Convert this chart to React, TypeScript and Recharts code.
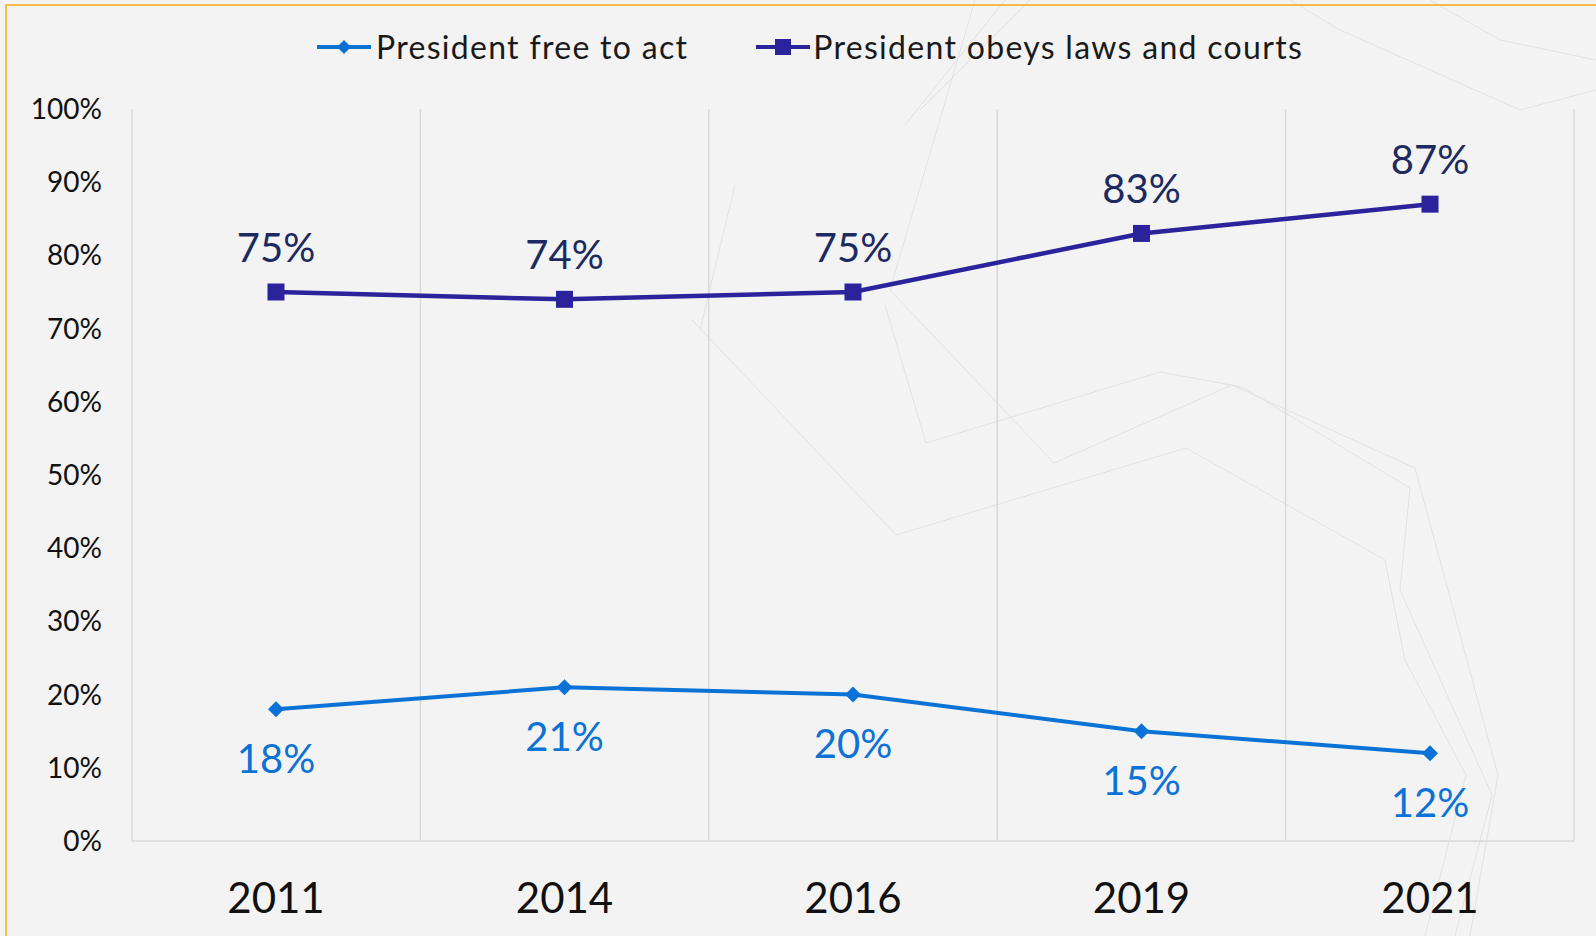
import React from 'react';
import {
  LineChart,
  Line,
  XAxis,
  YAxis,
  CartesianGrid,
  Legend,
  LabelList,
} from 'recharts';

const years = ['2011', '2014', '2016', '2019', '2021'];
const freeToAct = [18, 21, 20, 15, 12];
const obeysLaws = [75, 74, 75, 83, 87];
const yTicks = [0, 10, 20, 30, 40, 50, 60, 70, 80, 90, 100];

const BLUE = '#0b72d6';
const NAVY = '#2a239b';
const NAVY_TEXT = '#1c2a60';
const FONT = 'Lato, "Open Sans", sans-serif';

const data = years.map((year, i) => ({
  year,
  free: freeToAct[i],
  obeys: obeysLaws[i],
}));

// faint decorative strokes in the slide background
const decoLines = [
  '692,320 896,535 1186,448 1385,560 1405,660 1466,775 1425,936',
  '885,305 926,443 1160,372 1242,387 1410,488 1400,590 1492,795 1455,936',
  '975,0 890,290 1054,463 1232,385 1415,468 1498,775 1470,936',
  '735,185 712,280 700,330',
  '920,110 1030,0',
  '905,125 1005,0',
  '1290,0 1340,30 1520,110 1596,90',
  '1430,0 1500,40 1596,60',
];

const Diamond = ({ cx, cy, fill, r = 8 }: any) =>
  cx == null || cy == null ? null : (
    <path
      d={`M${cx},${cy - r} L${cx + r},${cy} L${cx},${cy + r} L${cx - r},${cy} Z`}
      fill={fill}
    />
  );

const Square = ({ cx, cy, fill, s = 17 }: any) =>
  cx == null || cy == null ? null : (
    <rect x={cx - s / 2} y={cy - s / 2} width={s} height={s} fill={fill} />
  );

const LegendIcon = ({ kind, color }: { kind: 'diamond' | 'square'; color: string }) => (
  <svg width={54} height={20} style={{ display: 'block' }}>
    <line x1={0} y1={10} x2={54} y2={10} stroke={color} strokeWidth={4} />
    {kind === 'diamond' ? (
      <Diamond cx={27} cy={10} r={7} fill={color} />
    ) : (
      <Square cx={27} cy={10} s={16} fill={color} />
    )}
  </svg>
);

const renderLegend = () => (
  <div
    style={{
      display: 'flex',
      justifyContent: 'center',
      alignItems: 'center',
      paddingLeft: 24,
      fontFamily: FONT,
      fontSize: 32,
      letterSpacing: 1.3,
      color: '#1a1a1a',
    }}
  >
    <div style={{ display: 'flex', alignItems: 'center', marginRight: 68 }}>
      <LegendIcon kind="diamond" color={BLUE} />
      <span style={{ marginLeft: 5 }}>President free to act</span>
    </div>
    <div style={{ display: 'flex', alignItems: 'center' }}>
      <LegendIcon kind="square" color={NAVY} />
      <span style={{ marginLeft: 3 }}>President obeys laws and courts</span>
    </div>
  </div>
);

const App = () => {
  return (
    <div
      style={{
        position: 'absolute',
        left: 0,
        top: 0,
        width: 1596,
        height: 936,
        background: '#f3f3f3',
        overflow: 'hidden',
      }}
    >
      <svg
        width={1596}
        height={936}
        style={{ position: 'absolute', left: 0, top: 0 }}
      >
        {decoLines.map((pts, i) => (
          <polyline key={i} points={pts} fill="none" stroke="#e1e1e1" strokeWidth={1} />
        ))}
      </svg>
      <div
        style={{
          position: 'absolute',
          left: 5,
          top: 4,
          width: 1700,
          height: 1000,
          borderTop: '2px solid #f8bd48',
          borderLeft: '2px solid #f8bd48',
        }}
      />
      <div style={{ position: 'absolute', left: 0, top: 0 }}>
        <LineChart
          width={1596}
          height={936}
          data={data}
          margin={{ top: 70, right: 22, left: 0, bottom: 35 }}
        >
          <CartesianGrid
            horizontal={false}
            stroke="#d9d9d9"
            strokeWidth={1.5}
            verticalCoordinatesGenerator={({ offset }: any) =>
              [0, 1, 2, 3, 4, 5].map((i) => offset.left + (i * offset.width) / years.length)
            }
          />
          <XAxis
            dataKey="year"
            padding={{ left: 144, right: 144 }}
            tickLine={false}
            tickSize={0}
            tickMargin={42}
            height={60}
            axisLine={{ stroke: '#d9d9d9', strokeWidth: 1.5 }}
            tick={{ fontSize: 42, fill: '#111', fontFamily: FONT }}
          />
          <YAxis
            domain={[0, 100]}
            ticks={yTicks}
            width={132}
            tickFormatter={(v) => `${v}%`}
            tickLine={false}
            axisLine={false}
            tickSize={0}
            tickMargin={30}
            tick={{ fontSize: 28, fill: '#111', fontFamily: FONT }}
          />
          <Legend
            verticalAlign="top"
            content={renderLegend}
            wrapperStyle={{ top: 27, left: 0, width: 1596 }}
          />
          <Line
            dataKey="free"
            name="President free to act"
            stroke={BLUE}
            strokeWidth={4}
            dot={(p: any) => <Diamond key={`d${p.index}`} cx={p.cx} cy={p.cy} r={8} fill={BLUE} />}
            activeDot={false}
            isAnimationActive={false}
          >
            <LabelList
              dataKey="free"
              position="bottom"
              offset={35}
              formatter={(v: any) => `${v}%`}
              style={{ fontSize: 40, fill: BLUE, fontFamily: FONT }}
            />
          </Line>
          <Line
            dataKey="obeys"
            name="President obeys laws and courts"
            stroke={NAVY}
            strokeWidth={4.5}
            dot={(p: any) => <Square key={`s${p.index}`} cx={p.cx} cy={p.cy} s={17} fill={NAVY} />}
            activeDot={false}
            isAnimationActive={false}
          >
            <LabelList
              dataKey="obeys"
              position="top"
              offset={30}
              formatter={(v: any) => `${v}%`}
              style={{ fontSize: 40, fill: NAVY_TEXT, fontFamily: FONT }}
            />
          </Line>
        </LineChart>
      </div>
    </div>
  );
};

export default App;
